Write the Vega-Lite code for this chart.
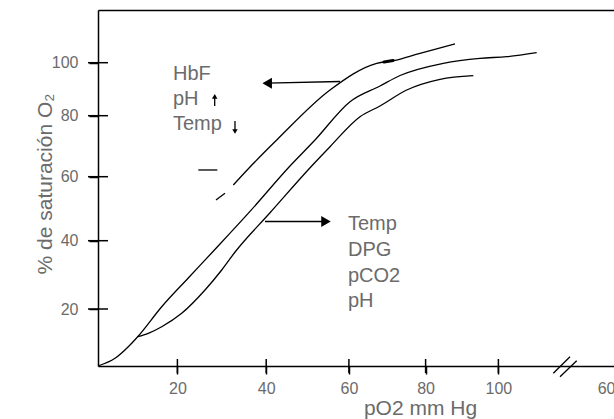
{
  "$schema": "https://vega.github.io/schema/vega-lite/v6.json",
  "width": 516,
  "height": 356,
  "autosize": {"type": "none"},
  "padding": {"left": 98, "top": 10, "right": 0, "bottom": 53},
  "background": "white",
  "config": {"view": {"stroke": null}, "font": "Liberation Sans"},
  "datasets": {
    "curves": [
      {"c": "L1a", "pO2": 28.69, "sat": 52.72}, {"c": "L1a", "pO2": 30.72, "sat": 54.81},
      {"c": "L1", "pO2": 32.59, "sat": 57.41}, {"c": "L1", "pO2": 36.35, "sat": 63.18}, {"c": "L1", "pO2": 42.54, "sat": 72.03}, {"c": "L1", "pO2": 55.43, "sat": 89.7}, {"c": "L1", "pO2": 67.25, "sat": 99.78}, {"c": "L1", "pO2": 71.58, "sat": 100.76}, {"c": "L1", "pO2": 78.54, "sat": 103.57}, {"c": "L1", "pO2": 88.08, "sat": 107.1},
      {"c": "dash", "pO2": 24.71, "sat": 62.2}, {"c": "dash", "pO2": 28.99, "sat": 62.2},
      {"c": "L2", "pO2": 0, "sat": 0}, {"c": "L2", "pO2": 4.28, "sat": 2.7}, {"c": "L2", "pO2": 7.63, "sat": 6.77}, {"c": "L2", "pO2": 10.0, "sat": 10.28}, {"c": "L2", "pO2": 16.05, "sat": 20.67}, {"c": "L2", "pO2": 22.45, "sat": 29.08}, {"c": "L2", "pO2": 28.02, "sat": 36.84}, {"c": "L2", "pO2": 36.35, "sat": 49.16}, {"c": "L2", "pO2": 45.75, "sat": 63.51}, {"c": "L2", "pO2": 51.8, "sat": 72.03}, {"c": "L2", "pO2": 60.29, "sat": 85.28}, {"c": "L2", "pO2": 68.11, "sat": 91.21}, {"c": "L2", "pO2": 73.33, "sat": 95.17}, {"c": "L2", "pO2": 84.86, "sat": 99.78}, {"c": "L2", "pO2": 94.94, "sat": 101.67}, {"c": "L2", "pO2": 102.39, "sat": 102.28}, {"c": "L2", "pO2": 111.0, "sat": 103.8},
      {"c": "L3", "pO2": 10.0, "sat": 10.28}, {"c": "L3", "pO2": 12.67, "sat": 11.47}, {"c": "L3", "pO2": 16.05, "sat": 13.79}, {"c": "L3", "pO2": 20.97, "sat": 18.49}, {"c": "L3", "pO2": 26.22, "sat": 25.56}, {"c": "L3", "pO2": 29.98, "sat": 31.42}, {"c": "L3", "pO2": 33.08, "sat": 36.84}, {"c": "L3", "pO2": 40.92, "sat": 48.72}, {"c": "L3", "pO2": 51.0, "sat": 63.51}, {"c": "L3", "pO2": 55.43, "sat": 69.84}, {"c": "L3", "pO2": 62.89, "sat": 79.67}, {"c": "L3", "pO2": 68.11, "sat": 83.66}, {"c": "L3", "pO2": 75.07, "sat": 89.7}, {"c": "L3", "pO2": 83.96, "sat": 93.74}, {"c": "L3", "pO2": 93.1, "sat": 95.1},
      {"c": "arrowL", "pO2": 40.24, "sat": 92.27}, {"c": "arrowL", "pO2": 57.85, "sat": 92.91},
      {"c": "arrowR", "pO2": 39.73, "sat": 46.0}, {"c": "arrowR", "pO2": 54.46, "sat": 46.0},
      {"c": "up", "pO2": 28.4, "sat": 83.66}, {"c": "up", "pO2": 28.4, "sat": 87.6},
      {"c": "down", "pO2": 32.97, "sat": 78.26}, {"c": "down", "pO2": 32.97, "sat": 75.2}
    ],
    "blob": [
      {"pO2": 69.15, "sat": 100.27}, {"pO2": 71.5, "sat": 100.83}
    ],
    "heads": [
      {"dir": "left", "pO2": 40.24, "sat": 92.27},
      {"dir": "right", "pO2": 54.46, "sat": 46.0}
    ],
    "smallheads": [
      {"dir": "up", "pO2": 28.4, "sat": 87.25},
      {"dir": "down", "pO2": 32.97, "sat": 74.82}
    ],
    "breaks": [
      {"pO2": 115.78, "sat": -2.56, "pO2b": 120.58, "satb": 3.26},
      {"pO2": 117.7, "sat": -3.75, "pO2b": 122.5, "satb": 1.86}
    ],
    "yticks": [
      {"pO2": 0, "sat": 20}, {"pO2": 0, "sat": 40}, {"pO2": 0, "sat": 60}, {"pO2": 0, "sat": 80}, {"pO2": 0, "sat": 100}
    ],
    "xticks": [
      {"pO2": 20, "sat": 0}, {"pO2": 40, "sat": 0}, {"pO2": 60, "sat": 0}, {"pO2": 80, "sat": 0}, {"pO2": 100, "sat": 0}
    ],
    "texts": [
      {"t": "HbF", "pO2": 18.89, "sat": 93.47},
      {"t": "pH", "pO2": 18.89, "sat": 84.04},
      {"t": "Temp", "pO2": 18.89, "sat": 75.31},
      {"t": "Temp", "pO2": 59.78, "sat": 43.34},
      {"t": "DPG", "pO2": 59.78, "sat": 35.52},
      {"t": "pCO2", "pO2": 59.78, "sat": 28.05},
      {"t": "pH", "pO2": 59.78, "sat": 20.59}
    ]
  },
  "resolve": {"axis": {"x": "independent", "y": "independent"}},
  "layer": [
    {
      "data": {"name": "curves"},
      "mark": {"type": "line", "color": "black", "strokeWidth": 1.3, "interpolate": "monotone"},
      "encoding": {
        "x": {"field": "pO2", "type": "quantitative",
          "scale": {"type": "linear", "domain": [0, 20, 40, 60, 80, 100, 130, 600, 620], "range": [0, 79.4, 168.2, 250.9, 327.6, 400.4, 504.8, 512.5, 516], "nice": false, "zero": false},
          "axis": {"orient": "bottom", "values": [20, 40, 60, 80, 100, 600], "grid": false,
            "domainColor": "black", "domainWidth": 1.5, "tickColor": "black", "tickWidth": 1.5, "tickSize": 8,
            "tickOpacity": {"condition": {"test": "datum.value == 600", "value": 0}, "value": 1},
            "labelFontSize": 16, "labelColor": "#6b6b6b", "labelPadding": 6, "labelFlush": false, "labelOverlap": false,
            "title": "pO2 mm Hg", "titleFontSize": 21, "titleFontWeight": "normal", "titleColor": "#6b6b6b",
            "titleX": 322, "titleY": 48, "titleBaseline": "alphabetic", "titleAlign": "center"}},
        "y": {"field": "sat", "type": "quantitative",
          "scale": {"type": "linear", "domain": [0, 20, 40, 60, 80, 100, 120], "range": [356, 299, 230.7, 166.7, 105.7, 52.7, 0], "nice": false, "zero": false},
          "axis": {"orient": "left", "values": [20, 40, 60, 80, 100], "grid": false,
            "domainColor": "black", "domainWidth": 1.5, "tickColor": "black", "tickWidth": 1.5, "tickSize": 9,
            "labelFontSize": 16, "labelColor": "#6b6b6b", "labelPadding": 11,
            "title": "% de saturación O₂", "titleFontSize": 21, "titleFontWeight": "normal", "titleColor": "#6b6b6b",
            "titleX": -47, "titleY": 173.5, "titleBaseline": "alphabetic", "titleAlign": "center"}},
        "detail": {"field": "c", "type": "nominal"}
      }
    },
    {
      "data": {"name": "blob"},
      "mark": {"type": "line", "color": "black", "strokeWidth": 3.2, "strokeCap": "round"},
      "encoding": {
        "x": {"field": "pO2", "type": "quantitative", "axis": null,
          "scale": {"type": "linear", "domain": [0, 20, 40, 60, 80, 100, 130, 600, 620], "range": [0, 79.4, 168.2, 250.9, 327.6, 400.4, 504.8, 512.5, 516], "nice": false, "zero": false}},
        "y": {"field": "sat", "type": "quantitative", "axis": null,
          "scale": {"type": "linear", "domain": [0, 20, 40, 60, 80, 100, 120], "range": [356, 299, 230.7, 166.7, 105.7, 52.7, 0], "nice": false, "zero": false}}
      }
    },
    {
      "data": {"name": "heads"},
      "mark": {"type": "point", "filled": true, "color": "black", "opacity": 1, "size": 121},
      "encoding": {
        "x": {"field": "pO2", "type": "quantitative", "axis": null,
          "scale": {"type": "linear", "domain": [0, 20, 40, 60, 80, 100, 130, 600, 620], "range": [0, 79.4, 168.2, 250.9, 327.6, 400.4, 504.8, 512.5, 516], "nice": false, "zero": false}},
        "y": {"field": "sat", "type": "quantitative", "axis": null,
          "scale": {"type": "linear", "domain": [0, 20, 40, 60, 80, 100, 120], "range": [356, 299, 230.7, 166.7, 105.7, 52.7, 0], "nice": false, "zero": false}},
        "shape": {"field": "dir", "type": "nominal", "scale": {"domain": ["left", "right", "up", "down"], "range": ["triangle-left", "triangle-right", "triangle-up", "triangle-down"]}, "legend": null}
      }
    },
    {
      "data": {"name": "smallheads"},
      "mark": {"type": "point", "filled": true, "color": "black", "opacity": 1, "size": 30},
      "encoding": {
        "x": {"field": "pO2", "type": "quantitative", "axis": null,
          "scale": {"type": "linear", "domain": [0, 20, 40, 60, 80, 100, 130, 600, 620], "range": [0, 79.4, 168.2, 250.9, 327.6, 400.4, 504.8, 512.5, 516], "nice": false, "zero": false}},
        "y": {"field": "sat", "type": "quantitative", "axis": null,
          "scale": {"type": "linear", "domain": [0, 20, 40, 60, 80, 100, 120], "range": [356, 299, 230.7, 166.7, 105.7, 52.7, 0], "nice": false, "zero": false}},
        "shape": {"field": "dir", "type": "nominal", "scale": {"domain": ["left", "right", "up", "down"], "range": ["triangle-left", "triangle-right", "triangle-up", "triangle-down"]}, "legend": null}
      }
    },
    {
      "data": {"name": "yticks"},
      "mark": {"type": "tick", "orient": "horizontal", "color": "black", "opacity": 1, "size": 20, "thickness": 1.5},
      "encoding": {
        "x": {"field": "pO2", "type": "quantitative", "axis": null,
          "scale": {"type": "linear", "domain": [0, 20, 40, 60, 80, 100, 130, 600, 620], "range": [0, 79.4, 168.2, 250.9, 327.6, 400.4, 504.8, 512.5, 516], "nice": false, "zero": false}},
        "y": {"field": "sat", "type": "quantitative", "axis": null,
          "scale": {"type": "linear", "domain": [0, 20, 40, 60, 80, 100, 120], "range": [356, 299, 230.7, 166.7, 105.7, 52.7, 0], "nice": false, "zero": false}}
      }
    },
    {
      "data": {"name": "xticks"},
      "mark": {"type": "tick", "orient": "vertical", "color": "black", "opacity": 1, "size": 14, "thickness": 1.5},
      "encoding": {
        "x": {"field": "pO2", "type": "quantitative", "axis": null,
          "scale": {"type": "linear", "domain": [0, 20, 40, 60, 80, 100, 130, 600, 620], "range": [0, 79.4, 168.2, 250.9, 327.6, 400.4, 504.8, 512.5, 516], "nice": false, "zero": false}},
        "y": {"field": "sat", "type": "quantitative", "axis": null,
          "scale": {"type": "linear", "domain": [0, 20, 40, 60, 80, 100, 120], "range": [356, 299, 230.7, 166.7, 105.7, 52.7, 0], "nice": false, "zero": false}}
      }
    },
    {
      "data": {"name": "breaks"},
      "mark": {"type": "rule", "color": "black", "strokeWidth": 1.3},
      "encoding": {
        "x": {"field": "pO2", "type": "quantitative",
          "scale": {"type": "linear", "domain": [0, 20, 40, 60, 80, 100, 130, 600, 620], "range": [0, 79.4, 168.2, 250.9, 327.6, 400.4, 504.8, 512.5, 516], "nice": false, "zero": false},
          "axis": {"orient": "top", "ticks": false, "labels": false, "grid": false, "domainColor": "black", "domainWidth": 1.5, "title": null}},
        "x2": {"field": "pO2b"},
        "y": {"field": "sat", "type": "quantitative",
          "scale": {"type": "linear", "domain": [0, 20, 40, 60, 80, 100, 120], "range": [356, 299, 230.7, 166.7, 105.7, 52.7, 0], "nice": false, "zero": false},
          "axis": null},
        "y2": {"field": "satb"}
      }
    },
    {
      "data": {"name": "texts"},
      "mark": {"type": "text", "align": "left", "baseline": "alphabetic", "fontSize": 20, "color": "#6b6b6b"},
      "encoding": {
        "x": {"field": "pO2", "type": "quantitative", "axis": null,
          "scale": {"type": "linear", "domain": [0, 20, 40, 60, 80, 100, 130, 600, 620], "range": [0, 79.4, 168.2, 250.9, 327.6, 400.4, 504.8, 512.5, 516], "nice": false, "zero": false}},
        "y": {"field": "sat", "type": "quantitative", "axis": null,
          "scale": {"type": "linear", "domain": [0, 20, 40, 60, 80, 100, 120], "range": [356, 299, 230.7, 166.7, 105.7, 52.7, 0], "nice": false, "zero": false}},
        "text": {"field": "t", "type": "nominal"}
      }
    }
  ]
}
